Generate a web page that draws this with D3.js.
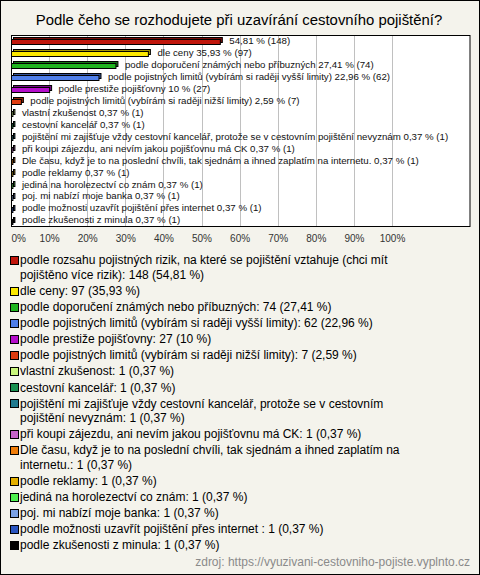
<!DOCTYPE html>
<html><head><meta charset="utf-8">
<script src="https://cdn.jsdelivr.net/npm/d3@7"></script>
<style>body{margin:0;padding:0;background:#fff;} svg{display:block;}</style>
</head><body>
<svg id="chart" width="480" height="575"></svg>
<script>
const title = "Podle čeho se rozhodujete při uzavírání cestovního pojištění?";
const categories = [
  "podle rozsahu pojistných rizik, na které se pojištění vztahuje (chci mít pojištěno více rizik)",
  "dle ceny",
  "podle doporučení známých nebo příbuzných",
  "podle pojistných limitů (vybírám si raději vyšší limity)",
  "podle prestiže pojišťovny",
  "podle pojistných limitů (vybírám si raději nižší limity)",
  "vlastní zkušenost",
  "cestovní kancelář",
  "pojištění mi zajišťuje vždy cestovní kancelář, protože se v cestovním pojištění nevyznám",
  "při koupi zájezdu, ani nevím jakou pojišťovnu má CK",
  "Dle času, když je to na poslední chvíli, tak sjednám a ihned zaplatím na internetu.",
  "podle reklamy",
  "jediná na horolezectví co znám",
  "poj. mi nabízí moje banka",
  "podle možnosti uzavřít pojištění přes internet ",
  "podle zkušenosti z minula"
];
const barNames = [
  "",
  "dle ceny",
  "podle doporučení známých nebo příbuzných",
  "podle pojistných limitů (vybírám si raději vyšší limity)",
  "podle prestiže pojišťovny",
  "podle pojistných limitů (vybírám si raději nižší limity)",
  "vlastní zkušenost",
  "cestovní kancelář",
  "pojištění mi zajišťuje vždy cestovní kancelář, protože se v cestovním pojištění nevyznám",
  "při koupi zájezdu, ani nevím jakou pojišťovnu má CK",
  "Dle času, když je to na poslední chvíli, tak sjednám a ihned zaplatím na internetu.",
  "podle reklamy",
  "jediná na horolezectví co znám",
  "poj. mi nabízí moje banka",
  "podle možnosti uzavřít pojištění přes internet",
  "podle zkušenosti z minula"
];
const counts = [148, 97, 74, 62, 27, 7, 1, 1, 1, 1, 1, 1, 1, 1, 1, 1];
const percents = [54.81, 35.93, 27.41, 22.96, 10, 2.59, 0.37, 0.37, 0.37, 0.37, 0.37, 0.37, 0.37, 0.37, 0.37, 0.37];
const colors = ["#c0160c", "#fbe800", "#1fb41f", "#4f7fea", "#b40ecb", "#de3c10", "#c8f57a", "#1a9150",
                "#1f7a8f", "#c664c8", "#f07d0a", "#e4b000", "#4ff04f", "#7ba2e6", "#2a55c0", "#000000"];
const tickValues = [0, 10, 20, 30, 40, 50, 60, 70, 80, 90, 100];
const source = "zdroj: https://vyuzivani-cestovniho-pojiste.vyplnto.cz";

const fmt = v => String(v).replace(".", ",");
const svg = d3.select("#chart");
const FONT = "'Liberation Sans', Arial, sans-serif";

svg.append("rect").attr("x", 0.5).attr("y", 0.5).attr("width", 479).attr("height", 574)
  .attr("fill", "#f4f3ec").attr("stroke", "#000");

svg.append("text").attr("x", 239).attr("y", 25).attr("text-anchor", "middle")
  .attr("font-family", FONT).attr("font-size", 14.9).attr("fill", "#000").text(title);

const plot = {left: 11, right: 470.5, top: 35, bottom: 226};
const x = d3.scaleLinear().domain([0, 100]).range([plot.left, 392]);
const y = d3.scaleBand().domain(d3.range(categories.length)).range([plot.top, plot.bottom]);

svg.append("rect").attr("x", plot.left + 0.5).attr("y", plot.top + 0.5)
  .attr("width", plot.right - plot.left - 1).attr("height", plot.bottom - plot.top)
  .attr("fill", "#fff");

svg.append("g").selectAll("line").data(tickValues.filter(t => t > 0)).join("line")
  .attr("x1", d => Math.round(x(d)) + 0.5).attr("x2", d => Math.round(x(d)) + 0.5)
  .attr("y1", plot.top).attr("y2", plot.bottom)
  .attr("stroke", "#c0c0c0").attr("stroke-width", 1);

svg.append("rect").attr("x", plot.left + 0.5).attr("y", plot.top + 0.5)
  .attr("width", plot.right - plot.left - 1).attr("height", plot.bottom - plot.top)
  .attr("fill", "none").attr("stroke", "#000").attr("stroke-width", 1);

// axis labels
const axis = d3.axisBottom(x).tickValues(tickValues).tickFormat(d => d + "%").tickSize(0).tickPadding(0);
const ag = svg.append("g").attr("transform", `translate(0,${plot.bottom + 9})`).call(axis);
ag.select(".domain").remove();
ag.selectAll("text").attr("font-family", FONT).attr("font-size", 10).attr("fill", "#333")
  .attr("text-anchor", d => d === 0 ? "start" : "middle");

// bars
const bh = 5, off = 2;
const bars = svg.append("g").selectAll("g").data(percents).join("g");
bars.append("rect")
  .attr("x", (d) => x(0) + off + 0.5)
  .attr("y", (d, i) => Math.round(y(i) + y.bandwidth() / 2 - 3.5) + 0.5)
  .attr("width", d => Math.max(0.5, x(d) - x(0)))
  .attr("height", bh)
  .attr("fill", (d, i) => d3.color(colors[i]).darker(1.2))
  .attr("stroke", "#000");
bars.append("rect")
  .attr("x", x(0) + 0.5)
  .attr("y", (d, i) => Math.round(y(i) + y.bandwidth() / 2 - 1.5) + 0.5)
  .attr("width", d => Math.max(0.5, x(d) - x(0)))
  .attr("height", bh)
  .attr("fill", (d, i) => colors[i])
  .attr("stroke", "#000");
bars.append("text")
  .attr("x", d => x(d) + 9.5)
  .attr("y", (d, i) => y(i) + y.bandwidth() / 2 + 3.3)
  .attr("font-family", FONT).attr("font-size", 9.7).attr("fill", "#111")
  .text((d, i) => (barNames[i] ? barNames[i] + " " : "") + fmt(d) + " % (" + counts[i] + ")");

// legend
const lg = svg.append("g");
const LFS = 12;
const lineH = 14.5, gap = 1.6, maxW = 410, tx = 20;
let cy = 260;
categories.forEach((name, i) => {
  const full = name + ": " + counts[i] + " (" + fmt(percents[i]) + " %)";
  const t = lg.append("text").attr("x", tx).attr("font-family", FONT).attr("font-size", LFS).attr("fill", "#000");
  const words = full.split(" ");
  let lines = [], cur = "";
  const probe = lg.append("text").attr("font-family", FONT).attr("font-size", LFS).attr("visibility", "hidden");
  words.forEach(w => {
    const test = cur ? cur + " " + w : w;
    probe.text(test);
    if (probe.node().getComputedTextLength() > maxW && cur) { lines.push(cur); cur = w; }
    else cur = test;
  });
  lines.push(cur);
  probe.remove();
  lines.forEach((ln, k) => {
    t.append("tspan").attr("x", tx).attr("y", cy + k * lineH + 4.3).text(ln);
  });
  lg.append("rect").attr("x", 10.5).attr("y", Math.round(cy - 4) + 0.5).attr("width", 8).attr("height", 8)
    .attr("fill", colors[i]).attr("stroke", "#000");
  cy += lines.length * lineH + gap;
});

svg.append("text").attr("x", 470).attr("y", 566).attr("text-anchor", "end")
  .attr("font-family", FONT).attr("font-size", 12).attr("fill", "#8a8a8a").text(source);
</script>
</body></html>
